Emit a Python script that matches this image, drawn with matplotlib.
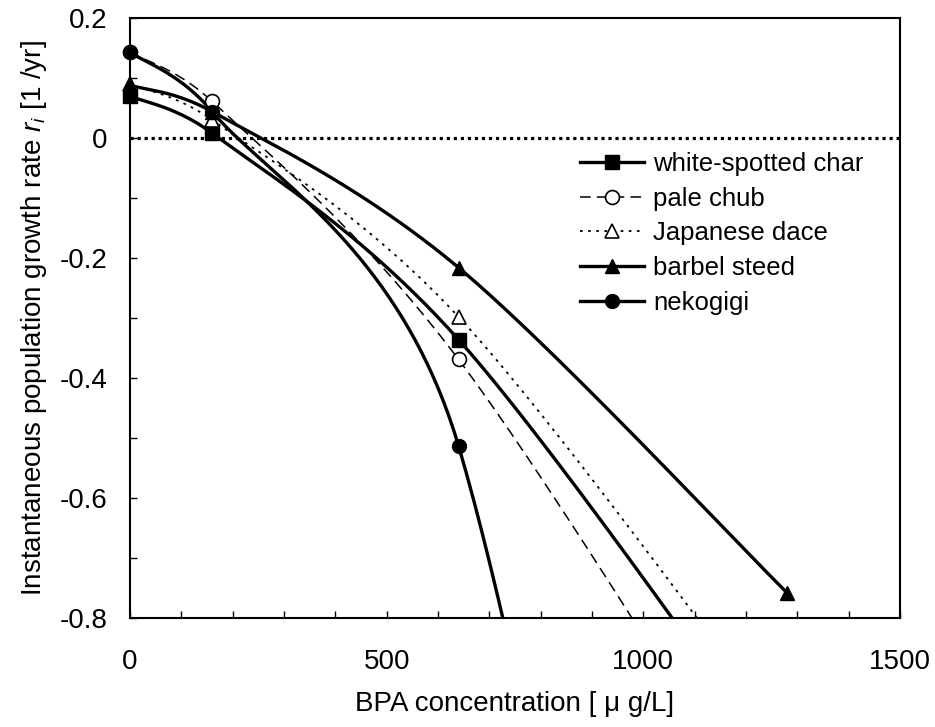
import numpy as np
import matplotlib.pyplot as plt

plt.rcParams['font.family'] = ['Liberation Sans', 'DejaVu Sans']
plt.rcParams['mathtext.fontset'] = 'custom'
plt.rcParams['mathtext.rm'] = 'Liberation Sans'
plt.rcParams['mathtext.it'] = 'Liberation Sans:italic'

# BPA concentration [ug/L]
conc = [0, 160, 640, 1280]
# growth rate r_i, last values fall below the axis (only the line shows)
white_spotted_char = [0.070, 0.008, -0.336, -1.065]
pale_chub = [0.143, 0.061, -0.369, -1.21]
japanese_dace = [0.090, 0.030, -0.298, -1.00]
barbel_steed = [0.088, 0.044, -0.216, -0.758]
nekogigi = [0.143, 0.044, -0.513, -3.2]

names = ['white-spotted char', 'pale chub', 'Japanese dace', 'barbel steed', 'nekogigi']
series = [white_spotted_char, pale_chub, japanese_dace, barbel_steed, nekogigi]


def arm(v, seg):
    # control arm, not longer than half the segment
    lim = 0.5 * np.hypot(*seg)
    n = np.hypot(*v)
    return v * lim / n if n > lim else v


def smooth(ax, xs, ys, n=80):
    # excel style smoothed line (bezier, tension 1/6) in screen space
    pts = ax.transData.transform(np.column_stack([xs, ys]))
    out = []
    t = np.linspace(0, 1, n)[:, None]
    for i in range(len(pts) - 1):
        p0 = pts[max(i - 1, 0)]
        p1, p2 = pts[i], pts[i + 1]
        p3 = pts[min(i + 2, len(pts) - 1)]
        c1 = p1 + arm((p2 - p0) / 6, p2 - p1)
        c2 = p2 - arm((p3 - p1) / 6, p2 - p1)
        seg = (1 - t) ** 3 * p1 + 3 * (1 - t) ** 2 * t * c1 + 3 * (1 - t) * t ** 2 * c2 + t ** 3 * p2
        out.append(seg if i == 0 else seg[1:])
    xy = ax.transData.inverted().transform(np.vstack(out))
    return xy[:, 0], xy[:, 1]


fig = plt.figure(figsize=(9.35, 7.27), dpi=100)
ax = fig.add_axes([130 / 935, 1 - 618 / 727, 770 / 935, 600 / 727])
ax.set_xlim(0, 1500)
ax.set_ylim(-0.8, 0.2)

styles = [
    dict(ls='-', lw=2.4, marker='s', mfc='black', mec='black', ms=10),
    dict(ls=(0, (7, 4)), lw=1.1, marker='o', mfc='white', mec='black', ms=10, mew=1.2),
    dict(ls=(0, (1.5, 3)), lw=1.3, marker='^', mfc='white', mec='black', ms=10, mew=1.2),
    dict(ls='-', lw=2.4, marker='^', mfc='black', mec='black', ms=10),
    dict(ls='-', lw=2.4, marker='o', mfc='black', mec='black', ms=10),
]

ax.axhline(0, color='black', lw=2.3, ls=(0, (1, 1.2)), dash_capstyle='butt', zorder=1)

handles = []
for name, ys, st in zip(names, series, styles):
    sx, sy = smooth(ax, conc, ys)
    ax.plot(sx, sy, color='black', ls=st['ls'], lw=st['lw'], zorder=2)
    vis = [(x, y) for x, y in zip(conc, ys) if y >= -0.8]
    ax.plot([v[0] for v in vis], [v[1] for v in vis], ls='none', marker=st['marker'],
            mfc=st['mfc'], mec=st['mec'], ms=st['ms'], mew=st.get('mew', 1), clip_on=False, zorder=3)
    h, = ax.plot([], [], color='black', ls=st['ls'], lw=st['lw'], marker=st['marker'],
                 mfc=st['mfc'], mec=st['mec'], ms=st['ms'], mew=st.get('mew', 1), label=name)
    handles.append(h)

ax.legend(handles=handles, loc='upper left', bbox_to_anchor=(0.584, 0.777), frameon=False,
          fontsize=18.5, handlelength=2.5, handletextpad=0.35, labelspacing=0.42,
          borderpad=0, borderaxespad=0, numpoints=1)

ax.set_xticks([0, 500, 1000, 1500])
ax.set_xticks(np.arange(0, 1501, 100), minor=True)
ax.set_yticks([0.2, 0, -0.2, -0.4, -0.6, -0.8])
ax.set_yticklabels(['0.2', '0', '-0.2', '-0.4', '-0.6', '-0.8'])
ax.set_yticks(np.arange(-0.8, 0.21, 0.1), minor=True)
ax.tick_params(which='both', direction='in', length=5, width=1, labelsize=20)
ax.tick_params(axis='x', pad=22)
ax.tick_params(axis='y', pad=16)
for s in ax.spines.values():
    s.set_linewidth(1.5)

ax.set_xlabel('BPA concentration [ μ g/L]', fontsize=20, labelpad=12)
ax.set_ylabel('Instantaneous population growth rate $r_i$ [1 /yr]', fontsize=20, labelpad=8)

fig.savefig('out.png', dpi=100)
